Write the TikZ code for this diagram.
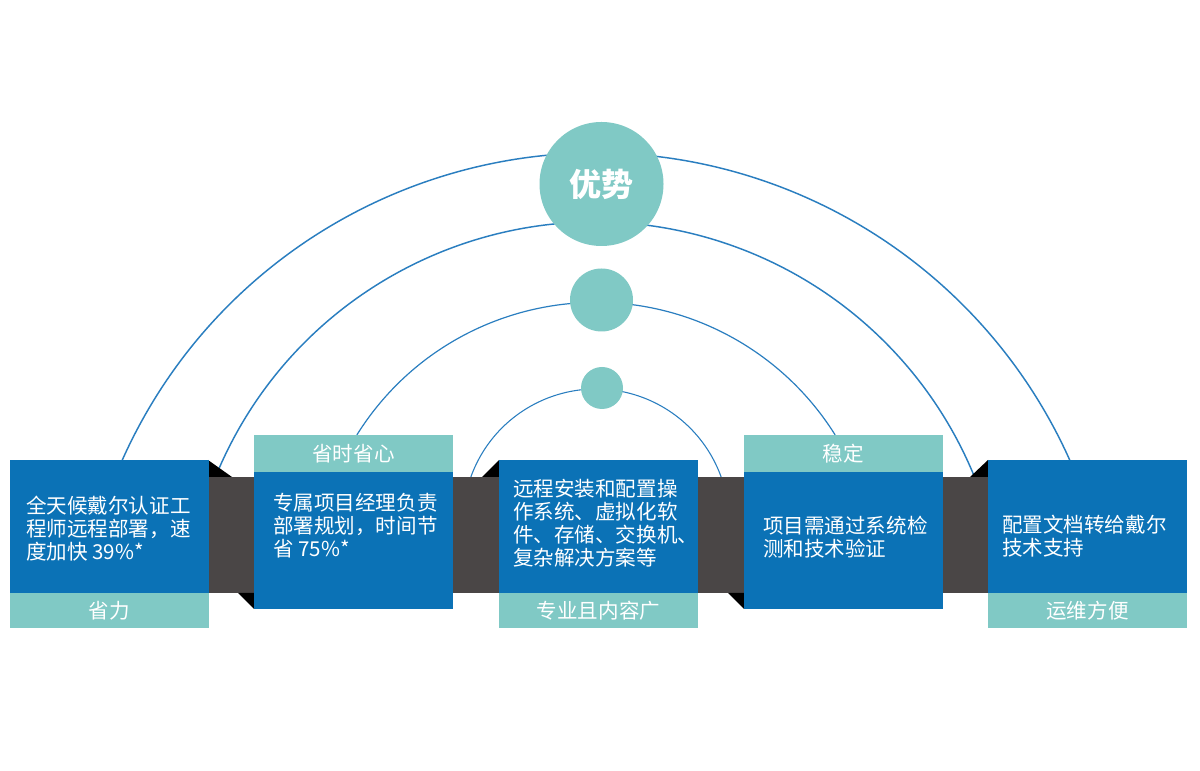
\documentclass[tikz,border=0pt]{standalone}
\usepackage{fontspec}
\setmainfont{Noto Sans CJK SC}
\usetikzlibrary{calc}
\definecolor{boxblue}{HTML}{0B72B6}
\definecolor{tealc}{HTML}{80C9C5}
\definecolor{bandgray}{HTML}{4A4646}
\definecolor{arcblue}{HTML}{2A7EC0}
\begin{document}
\begin{tikzpicture}[x=0.75pt,y=0.75pt,
  bluebox/.style={fill=boxblue, draw=none, inner sep=0, outer sep=0, anchor=south west, minimum width=149.25pt},
  abox/.style={bluebox, minimum height=99.75pt},
  bbox/.style={bluebox, minimum height=102.75pt},
  alabel/.style={fill=tealc, draw=none, inner sep=0, outer sep=0, anchor=south west, minimum width=149.25pt, minimum height=26.25pt},
  blabel/.style={fill=tealc, draw=none, inner sep=0, outer sep=0, anchor=south west, minimum width=149.25pt, minimum height=27.75pt},
  bodytext/.style={text=white, inner sep=0, anchor=west, align=left, font=\fontsize{15.4pt}{17.25pt}\selectfont},
  labeltext/.style={text=white, inner sep=0, font=\fontsize{15.4pt}{17.25pt}\selectfont},
  arcline/.style={draw=arcblue, line width=1.1pt},
  fold/.style={fill=black, draw=none},
  dot/.style={circle, fill=tealc, draw=none, inner sep=0}
]
\useasboundingbox[fill=white] (0,0) rectangle (1200,771);

% arc centres
\coordinate (c1) at (596,99);
\coordinate (c2) at (595,139);
\coordinate (c3) at (596,186.6);
\coordinate (c4) at (596,249);

% arcs
\draw[arcline] ($(c1)+(155.9:519)$) arc[start angle=155.9, end angle=24.1, radius=519];
\draw[arcline] ($(c2)+(157.8:410)$) arc[start angle=157.8, end angle=22.2, radius=410];
\draw[arcline, line width=0.9pt] ($(c3)+(148:282)$) arc[start angle=148, end angle=32, radius=282];
\draw[arcline, line width=0.8pt] ($(c4)+(160.2:133)$) arc[start angle=160.2, end angle=19.8, radius=133];

% band
\fill[bandgray] (208,178) rectangle (988,294);

% folds
\fill[fold] (208,311) -- (208,294) -- (232,294) -- cycle;
\fill[fold] (238,178) -- (254,178) -- (254,162) -- cycle;
\fill[fold] (482,294) -- (499,294) -- (499,311) -- cycle;
\fill[fold] (728,178) -- (744,178) -- (744,162) -- cycle;
\fill[fold] (970,294) -- (988,294) -- (988,311) -- cycle;

% boxes
\node[abox] (b1) at (10,178) {};
\node[alabel] (l1) at (10,143) {};
\node[bbox] (b2) at (254,162) {};
\node[blabel] (l2) at (254,299) {};
\node[abox] (b3) at (499,178) {};
\node[alabel] (l3) at (499,143) {};
\node[bbox] (b4) at (744,162) {};
\node[blabel] (l4) at (744,299) {};
\node[abox] (b5) at (988,178) {};
\node[alabel] (l5) at (988,143) {};

% texts
\node[bodytext] (t1) at (26,242) {全天候戴尔认证工\\程师远程部署，速\\度加快 39\%*};
\node[bodytext] (t2) at (273,245.5) {专属项目经理负责\\部署规划，时间节\\省 75\%*};
\node[bodytext] (t3) at (513,247.5) {远程安装和配置操\\作系统、虚拟化软\\件、存储、交换机、\\复杂解决方案等};
\node[bodytext] (t4) at (763,234) {项目需通过系统检\\测和技术验证};
\node[bodytext] (t5) at (1002,234.5) {配置文档转给戴尔\\技术支持};

\node[labeltext] (n1) at (l1.center) {省力};
\node[labeltext] (n2) at (l2.center) {省时省心};
\node[labeltext] (n3) at (l3.center) {专业且内容广};
\node[labeltext] (n4) at (l4.center) {稳定};
\node[labeltext] (n5) at (l5.center) {运维方便};

% circles
\node[dot, minimum size=93pt] (big) at (601.5,587) {};
\node[text=white, font=\fontsize{24pt}{28pt}\selectfont\bfseries] (youshi) at (big.center) {优势};
\node[dot, minimum size=47.25pt] (mid) at (601.5,471) {};
\node[dot, minimum size=31.5pt] (small) at (602,383) {};
\end{tikzpicture}
\end{document}
